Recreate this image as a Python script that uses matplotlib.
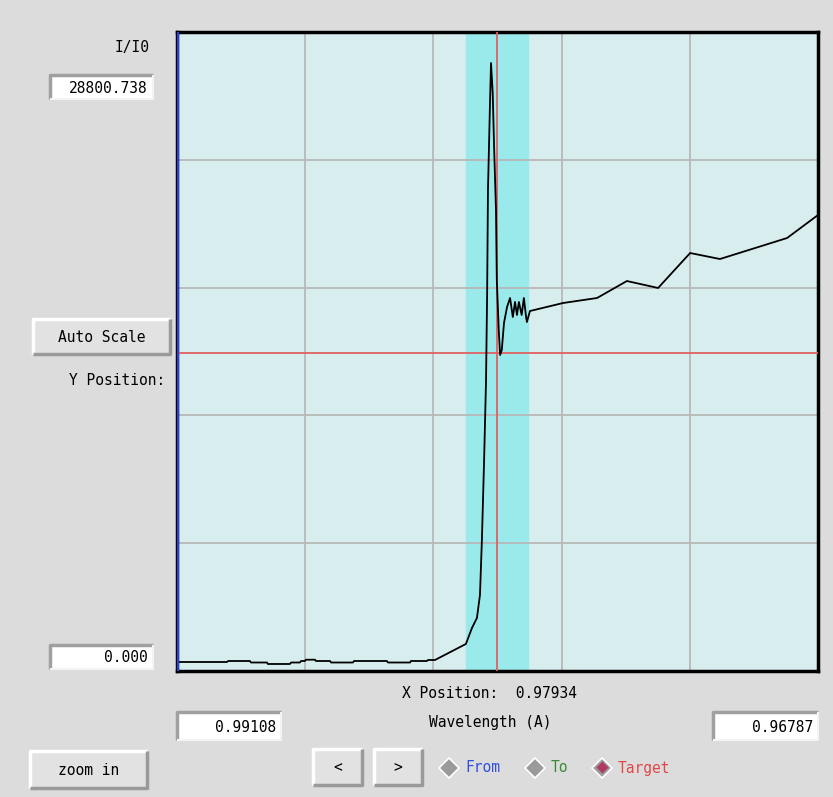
import matplotlib
matplotlib.use('Agg')
import matplotlib.pyplot as plt
from matplotlib.patches import Rectangle

# wavelength (A) vs I/I0
wavelength = [0.99108, 0.98927, 0.98923, 0.98844, 0.98840, 0.98782, 0.98779, 0.98699,
              0.98695, 0.98663, 0.98659, 0.98645, 0.98641, 0.98608, 0.98605, 0.98554,
              0.98550, 0.98471, 0.98467, 0.98348, 0.98344, 0.98264, 0.98261, 0.98203,
              0.98199, 0.98174, 0.98062, 0.98040, 0.98022, 0.98011, 0.98004, 0.97996,
              0.97989, 0.97985, 0.97982, 0.97975, 0.97971, 0.97965, 0.97960, 0.97953,
              0.97950, 0.97943, 0.97938, 0.97932, 0.97924, 0.97913, 0.97902, 0.97892,
              0.97884, 0.97877, 0.97870, 0.97860, 0.97852, 0.97844, 0.97841, 0.97830,
              0.97710, 0.97587, 0.97479, 0.97366, 0.97250, 0.97142, 0.96899, 0.96787]
intensity = [406, 406, 451, 451, 383, 383, 316, 316,
             383, 383, 451, 451, 509, 509, 451, 451,
             383, 383, 451, 451, 383, 383, 451, 451,
             496, 496, 1217, 1938, 2389, 3425, 5904, 9510,
             13115, 17036, 21679, 25419, 27403, 26096, 23707, 20777,
             17622, 15369, 14242, 14467, 15684, 16405, 16812, 15955,
             16632, 16046, 16632, 16046, 16812, 15955, 15729, 16225,
             16586, 16812, 17577, 17263, 18839, 18569, 19515, 20552]

x_from = 0.99108
x_to = 0.96787
y_min = 0.0
y_max = 28800.738
band = (0.98062, 0.97837)
target_x = 0.97949
target_y = 14332
x_position_label = "0.97934"

W, H = 833, 797
fig = plt.figure(figsize=(W / 100, H / 100), dpi=100)
fig.patch.set_facecolor('#dcdcdc')

# pixel overlay for the widgets around the plot
ui = fig.add_axes([0, 0, 1, 1], zorder=0)
ui.set_xlim(0, W)
ui.set_ylim(H, 0)
ui.axis('off')

mono = 'DejaVu Sans Mono'


def entry(x0, y0, x1, y1, text):
    ui.add_patch(Rectangle((x0, y0), x1 - x0, y1 - y0, facecolor='white',
                           edgecolor='none'))
    ui.plot([x0, x0, x1], [y1, y0, y0], color='#a0a0a0', lw=2.5, solid_capstyle='butt')
    ui.plot([x0, x1, x1], [y1, y1, y0], color='#f4f4f4', lw=1.5, solid_capstyle='butt')
    ui.text(x1 - 5, (y0 + y1) / 2 + 1, text, ha='right', va='center',
            family=mono, fontsize=10.5)


def button(x0, y0, x1, y1, text):
    ui.add_patch(Rectangle((x0, y0), x1 - x0, y1 - y0, facecolor='#e2e2e2',
                           edgecolor='none'))
    ui.plot([x0, x0, x1], [y1, y0, y0], color='white', lw=2.5, solid_capstyle='butt')
    ui.plot([x0, x1, x1], [y1, y1, y0], color='#9a9a9a', lw=2.5, solid_capstyle='butt')
    ui.text((x0 + x1) / 2, (y0 + y1) / 2 + 1, text, ha='center', va='center',
            family=mono, fontsize=10.5)


ui.text(150, 47, 'I/I0', ha='right', va='center', family=mono, fontsize=10.5)
entry(50, 75, 153, 99, '28800.738')
button(33, 319, 170, 354, 'Auto Scale')
ui.text(165, 380, 'Y Position:', ha='right', va='center', family=mono, fontsize=10.5)
entry(50, 645, 153, 669, '0.000')
ui.text(490, 693, 'X Position:  ' + x_position_label, ha='center', va='center',
        family=mono, fontsize=10.5)
entry(177, 712, 281, 740, '0.99108')
ui.text(490, 723, 'Wavelength (A)', ha='center', va='center', family=mono, fontsize=10.5)
entry(713, 712, 818, 740, '0.96787')
button(30, 751, 147, 788, 'zoom in')
button(313, 749, 362, 785, '<')
button(374, 749, 422, 785, '>')

for dx, label, col, mark in [(449, 'From', '#3050e0', None),
                              (535, 'To', '#3a8a3a', None),
                              (602, 'Target', '#e04848', '#b03a60')]:
    ui.plot(dx, 768, marker='D', ms=10, color='#9a9a9a', mec='white', mew=1.2)
    if mark:
        ui.plot(dx, 767, marker='D', ms=6, color=mark, mec='none')
    ui.text(dx + 16, 768, label, ha='left', va='center', family=mono,
            fontsize=10.5, color=col)

# plot area
ax = fig.add_axes([177 / W, 1 - 671 / H, 641 / W, 639 / H], zorder=1)
ax.set_facecolor('#d8eeee')
ax.axvspan(band[0], band[1], color='#9aeaec', zorder=1)
ax.set_xlim(x_from, x_to)
ax.set_ylim(y_min, y_max)
xs = [x_from + (x_to - x_from) * k / 5 for k in range(1, 5)]
ys = [y_min + (y_max - y_min) * k / 5 for k in range(1, 5)]
for v in xs:
    ax.axvline(v, color='#b8b8b8', lw=1.3, zorder=2)
for v in ys:
    ax.axhline(v, color='#b8b8b8', lw=1.3, zorder=2)
ax.axvline(target_x, color='#e06060', lw=1.3, zorder=3)
ax.axhline(target_y, color='#e06060', lw=1.3, zorder=3)
ax.plot(wavelength, intensity, color='black', lw=1.3, zorder=4)
ax.axvline(x_from, color='#2040e0', lw=3, zorder=5)
ax.set_xticks([])
ax.set_yticks([])
for s in ax.spines.values():
    s.set_linewidth(2.5)
    s.set_color('black')

fig.savefig('out.png', dpi=100, facecolor=fig.get_facecolor())
